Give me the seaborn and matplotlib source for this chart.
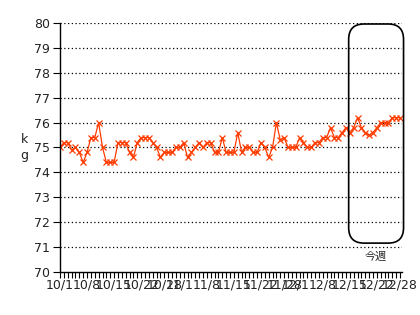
import matplotlib
matplotlib.use("Agg")
import matplotlib.pyplot as plt
from matplotlib.patches import FancyBboxPatch
import seaborn as sns
import pandas as pd
import numpy as np

# daily weights from 10/1 to 12/28
weights = [
    75.0, 75.2, 75.2, 74.9, 75.0, 74.8, 74.4, 74.8, 75.4, 75.4,
    76.0, 75.0, 74.4, 74.4, 74.4, 75.2, 75.2, 75.2, 74.8, 74.6,
    75.2, 75.4, 75.4, 75.4, 75.2, 75.0, 74.6, 74.8, 74.8, 74.8,
    75.0, 75.0, 75.2, 74.6, 74.8, 75.0, 75.2, 75.0, 75.2, 75.2,
    74.8, 74.8, 75.4, 74.8, 74.8, 74.8, 75.6, 74.8, 75.0, 75.0,
    74.8, 74.8, 75.2, 75.0, 74.6, 75.0, 76.0, 75.3, 75.4, 75.0,
    75.0, 75.0, 75.4, 75.2, 75.0, 75.0, 75.2, 75.2, 75.4, 75.4,
    75.8, 75.4, 75.4, 75.6, 75.8, 75.6, 75.8, 76.2, 75.8, 75.6,
    75.5, 75.6, 75.8, 76.0, 76.0, 76.0, 76.2, 76.2, 76.2,
]
tick_dates = ["10/1", "10/8", "10/15", "10/22", "10/28",
              "11/1", "11/8", "11/15", "11/22", "11/28",
              "12/1", "12/8", "12/15", "12/22", "12/28"]
y_ticks = [70, 71, 72, 73, 74, 75, 76, 77, 78, 79, 80]
week_label = "今週"
week_start = "12/15"

dates = pd.date_range("2007-10-01", periods=len(weights), freq="D")
labels = [f"{d.month}/{d.day}" for d in dates]
df = pd.DataFrame({"day": np.arange(len(weights)), "kg": weights})

sns.set_theme(style="white")
plt.rcParams["font.family"] = ["DejaVu Sans", "Noto Sans CJK JP"]

fig = plt.figure(figsize=(4.2, 3.15), dpi=100)
ax = fig.add_axes([60/420, 1 - 272/315, 342/420, 249/315])

color = "#ff3c00"
sns.lineplot(data=df, x="day", y="kg", ax=ax, color=color, lw=0.9,
             marker="x", markersize=5, markeredgewidth=0.9,
             markeredgecolor=color)

ax.set_ylim(70, 80)
ax.set_xlim(0, len(weights) - 0.5)
ax.set_yticks(y_ticks)
ax.set_yticklabels([str(v) for v in y_ticks], fontsize=9, color="#222222")
for v in y_ticks[1:]:
    ax.axhline(v, color="black", lw=0.9, ls=(0, (1, 2)), zorder=0)

tick_pos = [labels.index(t) for t in tick_dates]
ax.set_xticks(tick_pos)
ax.set_xticklabels(tick_dates, fontsize=9, color="#222222")
ax.set_xticks(np.arange(len(weights)), minor=True)
ax.tick_params(axis="x", which="both", direction="out", length=4,
               width=0.8, color="black", pad=1, bottom=True)
ax.tick_params(axis="y", direction="out", length=5, width=0.8,
               color="black", pad=2, left=True)

for s in ["top", "right"]:
    ax.spines[s].set_visible(False)
for s in ["left", "bottom"]:
    ax.spines[s].set_color("black")
    ax.spines[s].set_linewidth(1.0)

ax.set_xlabel("")
ax.set_ylabel("k\ng", rotation=0, fontsize=9, color="#222222",
              labelpad=7, va="center", linespacing=1.3)

# "this week" rounded box
x0 = labels.index(week_start) - 0.3
x1 = len(weights) - 0.1
xr = ax.get_xlim()
fx0 = (x0 - xr[0]) / (xr[1] - xr[0])
fx1 = (x1 - xr[0]) / (xr[1] - xr[0])
box = FancyBboxPatch((fx0, 0.116), fx1 - fx0, 0.996 - 0.116,
                     boxstyle="round,pad=0,rounding_size=0.045",
                     mutation_aspect=342/249, transform=ax.transAxes,
                     fill=False, edgecolor="black", lw=1.2, clip_on=False,
                     zorder=5)
ax.add_patch(box)
ax.text((fx0 + fx1) / 2, 0.062, week_label, transform=ax.transAxes,
        ha="center", va="center", fontsize=8,
        family=["Noto Sans CJK JP", "DejaVu Sans"], color="#222222")

fig.savefig("out.png", dpi=100)
